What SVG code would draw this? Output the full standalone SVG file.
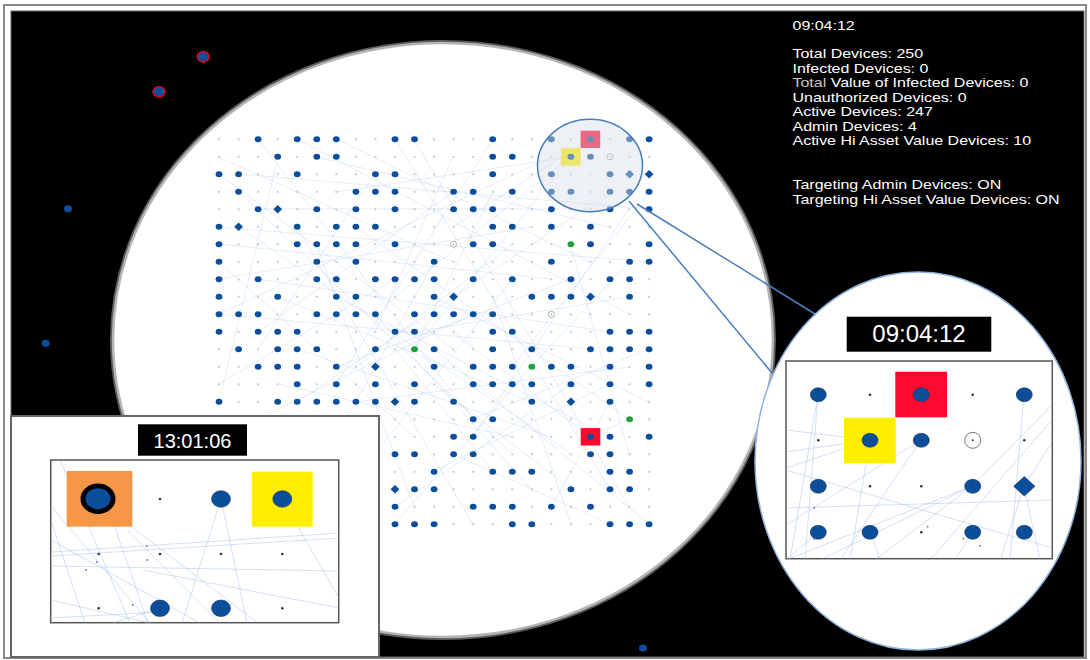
<svg xmlns="http://www.w3.org/2000/svg" width="1090" height="660" viewBox="0 0 1090 660">
<style>
.lbl{font-family:"Liberation Sans",Arial,sans-serif;fill:#fff}
.info{font-family:"Liberation Sans",Arial,sans-serif;font-size:12.8px;fill:#fff}
.ln{stroke:#a9c6ec;stroke-width:0.7;opacity:0.45;fill:none}
.pl{stroke:#9dbde6;stroke-width:0.9;opacity:0.5;fill:none}
.call{stroke:#4a7ebb;stroke-width:1.5;fill:none}
.panel{fill:#fff;stroke:#555;stroke-width:1.5}
.bn{fill:#0b4f9c;stroke:#16305a;stroke-width:0.6}
.sd{fill:#333}
</style>
<defs>
<pattern id="gp" x="209.225" y="130.55" width="19.55" height="17.5" patternUnits="userSpaceOnUse">
<circle cx="9.775" cy="8.75" r="0.9" fill="#b0b0b0"/>
</pattern>
<ellipse id="n" rx="3.4" ry="3" fill="#0b4f9c"/>
<path id="dm" d="M0,-4.2 L4.4,0 L0,4.2 L-4.4,0Z" fill="#0b4f9c"/>
<ellipse id="gn" rx="3.4" ry="3" fill="#23a03c"/>
<g id="hc"><circle r="3" fill="#fff" stroke="#9a9a9a" stroke-width="0.8"/><circle r="0.6" fill="#777"/></g>
<clipPath id="cr"><rect x="786" y="361" width="266.3" height="197.7"/></clipPath>
<clipPath id="cl"><rect x="50.7" y="460" width="288" height="162.7"/></clipPath>
</defs>

<rect x="0" y="0" width="1090" height="660" fill="#fff"/>
<rect x="4" y="5" width="1082" height="653" fill="none" stroke="#8a8a8a" stroke-width="2"/>
<rect x="11" y="11" width="1073" height="646" fill="#000" stroke="#666" stroke-width="1"/>

<g id="outside-nodes">
<ellipse cx="203.3" cy="56.7" rx="6" ry="5.2" fill="#0b4f9c" stroke="#e0001b" stroke-width="1.5"/>
<ellipse cx="159" cy="91.7" rx="6" ry="5.2" fill="#0b4f9c" stroke="#e0001b" stroke-width="1.5"/>
<ellipse cx="68" cy="208.7" rx="4" ry="3.5" fill="#0b4f9c"/>
<ellipse cx="45.7" cy="343.3" rx="4" ry="3.5" fill="#0b4f9c"/>
<ellipse cx="643" cy="648" rx="4" ry="3.5" fill="#0b4f9c"/>
</g>

<g id="main-view">
<ellipse cx="443" cy="340" rx="331.5" ry="298.5" fill="none" stroke="#5a5a5a" stroke-width="3"/>
<ellipse cx="443" cy="340" rx="330" ry="297" fill="#fff" stroke="#b4b4b4" stroke-width="2.5"/>
<rect x="209" y="130" width="450" height="403" fill="url(#gp)"/>
</g>

<g id="connectors">
<line class="ln" x1="258" y1="139" x2="473" y2="419"/>
<line class="ln" x1="297" y1="139" x2="629" y2="314"/>
<line class="ln" x1="336" y1="139" x2="590" y2="262"/>
<line class="ln" x1="219" y1="174" x2="453" y2="349"/>
<line class="ln" x1="239" y1="192" x2="512" y2="454"/>
<line class="ln" x1="278" y1="157" x2="219" y2="402"/>
<line class="ln" x1="375" y1="174" x2="258" y2="349"/>
<line class="ln" x1="395" y1="139" x2="610" y2="489"/>
<line class="ln" x1="414" y1="139" x2="629" y2="507"/>
<line class="ln" x1="493" y1="139" x2="336" y2="384"/>
<line class="ln" x1="551" y1="157" x2="219" y2="314"/>
<line class="ln" x1="571" y1="157" x2="414" y2="349"/>
<line class="ln" x1="610" y1="192" x2="297" y2="402"/>
<line class="ln" x1="629" y1="209" x2="473" y2="437"/>
<line class="ln" x1="649" y1="192" x2="512" y2="367"/>
<line class="ln" x1="453" y1="192" x2="258" y2="332"/>
<line class="ln" x1="219" y1="227" x2="649" y2="262"/>
<line class="ln" x1="219" y1="244" x2="551" y2="279"/>
<line class="ln" x1="239" y1="227" x2="571" y2="454"/>
<line class="ln" x1="297" y1="227" x2="473" y2="524"/>
<line class="ln" x1="356" y1="227" x2="629" y2="419"/>
<line class="ln" x1="219" y1="262" x2="414" y2="437"/>
<line class="ln" x1="434" y1="262" x2="297" y2="507"/>
<line class="ln" x1="258" y1="279" x2="610" y2="332"/>
<line class="ln" x1="395" y1="279" x2="219" y2="384"/>
<line class="ln" x1="434" y1="297" x2="649" y2="402"/>
<line class="ln" x1="512" y1="279" x2="375" y2="454"/>
<line class="ln" x1="571" y1="279" x2="336" y2="367"/>
<line class="ln" x1="278" y1="297" x2="531" y2="402"/>
<line class="ln" x1="336" y1="297" x2="610" y2="437"/>
<line class="ln" x1="219" y1="314" x2="590" y2="349"/>
<line class="ln" x1="375" y1="314" x2="531" y2="489"/>
<line class="ln" x1="473" y1="314" x2="258" y2="419"/>
<line class="ln" x1="414" y1="332" x2="629" y2="297"/>
<line class="ln" x1="297" y1="349" x2="551" y2="437"/>
<line class="ln" x1="434" y1="349" x2="649" y2="524"/>
<line class="ln" x1="356" y1="367" x2="512" y2="244"/>
<line class="ln" x1="531" y1="367" x2="395" y2="524"/>
<line class="ln" x1="531" y1="367" x2="629" y2="262"/>
<line class="ln" x1="414" y1="349" x2="493" y2="192"/>
<line class="ln" x1="610" y1="384" x2="434" y2="471"/>
<line class="ln" x1="590" y1="437" x2="629" y2="419"/>
<line class="ln" x1="590" y1="437" x2="453" y2="332"/>
<line class="ln" x1="473" y1="419" x2="649" y2="349"/>
<line class="ln" x1="453" y1="454" x2="610" y2="524"/>
<line class="ln" x1="493" y1="471" x2="395" y2="349"/>
<line class="ln" x1="571" y1="489" x2="434" y2="384"/>
<line class="ln" x1="551" y1="507" x2="610" y2="402"/>
<line class="ln" x1="395" y1="507" x2="571" y2="384"/>
<line class="ln" x1="239" y1="174" x2="649" y2="209"/>
<line class="ln" x1="316" y1="157" x2="610" y2="227"/>
<line class="ln" x1="219" y1="157" x2="453" y2="262"/>
<line class="ln" x1="258" y1="209" x2="571" y2="209"/>
<line class="ln" x1="531" y1="227" x2="219" y2="279"/>
<line class="ln" x1="570" y1="244" x2="629" y2="454"/>
<line class="ln" x1="316" y1="244" x2="414" y2="507"/>
<line class="ln" x1="493" y1="297" x2="571" y2="524"/>
<line class="ln" x1="355" y1="402" x2="629" y2="367"/>
<line class="ln" x1="278" y1="384" x2="512" y2="437"/>
<line class="ln" x1="453" y1="157" x2="375" y2="332"/>
<line class="ln" x1="570" y1="157" x2="395" y2="297"/>
<line class="ln" x1="590" y1="139" x2="453" y2="227"/>
<line class="ln" x1="570" y1="157" x2="336" y2="192"/>
</g>

<g id="grid-nodes">
<rect x="580.7" y="428.1" width="19.6" height="17.4" fill="#ff0a2e"/>
<rect x="580.6" y="130.7" width="19.6" height="17.3" fill="#ff0a2e"/>
<rect x="561.1" y="148.2" width="19.6" height="17.4" fill="#ffee00"/>
<g transform="translate(0,139.3)"><use href="#n" x="258.1"/><use href="#n" x="297.2"/><use href="#n" x="316.8"/><use href="#n" x="336.3"/><use href="#n" x="395"/><use href="#n" x="414.5"/><use href="#n" x="492.7"/><use href="#n" x="551.4"/><use href="#n" x="590.5"/><use href="#n" x="629.6"/><use href="#n" x="649.1"/></g>
<g transform="translate(0,156.8)"><use href="#n" x="277.7"/><use href="#n" x="316.8"/><use href="#n" x="336.3"/><use href="#n" x="492.7"/><use href="#n" x="512.3"/><use href="#n" x="570.9"/><use href="#n" x="590.5"/><use href="#hc" x="610"/></g>
<g transform="translate(0,174.3)"><use href="#n" x="219"/><use href="#n" x="238.6"/><use href="#n" x="297.2"/><use href="#n" x="375.4"/><use href="#n" x="395"/><use href="#n" x="492.7"/><use href="#n" x="551.4"/><use href="#n" x="610"/><use href="#dm" x="629.6"/><use href="#dm" x="649.1"/></g>
<g transform="translate(0,191.8)"><use href="#n" x="238.6"/><use href="#n" x="355.9"/><use href="#n" x="375.4"/><use href="#n" x="395"/><use href="#n" x="453.6"/><use href="#n" x="473.2"/><use href="#n" x="512.3"/><use href="#n" x="551.4"/><use href="#n" x="570.9"/><use href="#n" x="610"/><use href="#n" x="629.6"/><use href="#n" x="649.1"/></g>
<g transform="translate(0,209.3)"><use href="#n" x="258.1"/><use href="#dm" x="277.7"/><use href="#n" x="316.8"/><use href="#n" x="355.9"/><use href="#n" x="395"/><use href="#n" x="453.6"/><use href="#n" x="473.2"/><use href="#n" x="492.7"/><use href="#n" x="551.4"/><use href="#n" x="610"/><use href="#n" x="649.1"/></g>
<g transform="translate(0,226.8)"><use href="#n" x="219"/><use href="#dm" x="238.6"/><use href="#n" x="297.2"/><use href="#n" x="336.3"/><use href="#n" x="355.9"/><use href="#n" x="375.4"/><use href="#n" x="492.7"/><use href="#n" x="512.3"/><use href="#n" x="551.4"/><use href="#n" x="590.5"/></g>
<g transform="translate(0,244.3)"><use href="#n" x="219"/><use href="#n" x="297.2"/><use href="#n" x="316.8"/><use href="#n" x="336.3"/><use href="#n" x="355.9"/><use href="#n" x="395"/><use href="#hc" x="453.6"/><use href="#n" x="473.2"/><use href="#n" x="492.7"/><use href="#gn" x="570.9"/><use href="#n" x="590.5"/><use href="#n" x="649.1"/></g>
<g transform="translate(0,261.8)"><use href="#n" x="219"/><use href="#n" x="316.8"/><use href="#n" x="355.9"/><use href="#n" x="434.1"/><use href="#n" x="551.4"/><use href="#n" x="629.6"/><use href="#n" x="649.1"/></g>
<g transform="translate(0,279.3)"><use href="#n" x="219"/><use href="#n" x="258.1"/><use href="#n" x="316.8"/><use href="#n" x="336.3"/><use href="#n" x="375.4"/><use href="#n" x="395"/><use href="#n" x="414.5"/><use href="#n" x="434.1"/><use href="#n" x="473.2"/><use href="#n" x="512.3"/><use href="#n" x="570.9"/><use href="#n" x="610"/><use href="#n" x="629.6"/></g>
<g transform="translate(0,296.8)"><use href="#n" x="219"/><use href="#n" x="277.7"/><use href="#n" x="336.3"/><use href="#n" x="355.9"/><use href="#n" x="434.1"/><use href="#dm" x="453.6"/><use href="#n" x="531.8"/><use href="#n" x="551.4"/><use href="#n" x="570.9"/><use href="#dm" x="590.5"/><use href="#n" x="629.6"/></g>
<g transform="translate(0,314.3)"><use href="#n" x="219"/><use href="#n" x="238.6"/><use href="#n" x="258.1"/><use href="#n" x="316.8"/><use href="#n" x="336.3"/><use href="#n" x="355.9"/><use href="#n" x="375.4"/><use href="#n" x="414.5"/><use href="#n" x="434.1"/><use href="#n" x="453.6"/><use href="#n" x="473.2"/><use href="#n" x="492.7"/><use href="#hc" x="551.4"/></g>
<g transform="translate(0,331.8)"><use href="#n" x="219"/><use href="#n" x="258.1"/><use href="#n" x="277.7"/><use href="#n" x="297.2"/><use href="#n" x="395"/><use href="#n" x="414.5"/><use href="#n" x="492.7"/><use href="#n" x="512.3"/><use href="#n" x="610"/><use href="#n" x="629.6"/><use href="#n" x="649.1"/></g>
<g transform="translate(0,349.3)"><use href="#n" x="238.6"/><use href="#n" x="277.7"/><use href="#n" x="297.2"/><use href="#n" x="316.8"/><use href="#n" x="375.4"/><use href="#gn" x="414.5"/><use href="#n" x="434.1"/><use href="#n" x="492.7"/><use href="#n" x="531.8"/><use href="#n" x="590.5"/><use href="#n" x="610"/><use href="#n" x="629.6"/><use href="#n" x="649.1"/></g>
<g transform="translate(0,366.8)"><use href="#n" x="258.1"/><use href="#n" x="277.7"/><use href="#n" x="297.2"/><use href="#n" x="336.3"/><use href="#dm" x="375.4"/><use href="#n" x="434.1"/><use href="#n" x="473.2"/><use href="#n" x="492.7"/><use href="#n" x="512.3"/><use href="#gn" x="531.8"/><use href="#n" x="551.4"/><use href="#n" x="570.9"/><use href="#n" x="610"/><use href="#n" x="649.1"/></g>
<g transform="translate(0,384.3)"><use href="#n" x="297.2"/><use href="#n" x="336.3"/><use href="#n" x="375.4"/><use href="#n" x="414.5"/><use href="#n" x="473.2"/><use href="#n" x="492.7"/><use href="#n" x="512.3"/><use href="#n" x="531.8"/><use href="#n" x="570.9"/><use href="#n" x="610"/><use href="#n" x="649.1"/></g>
<g transform="translate(0,401.8)"><use href="#n" x="219"/><use href="#n" x="277.7"/><use href="#n" x="297.2"/><use href="#n" x="316.8"/><use href="#n" x="336.3"/><use href="#n" x="355.9"/><use href="#n" x="375.4"/><use href="#dm" x="395"/><use href="#n" x="414.5"/><use href="#n" x="453.6"/><use href="#n" x="531.8"/><use href="#dm" x="570.9"/><use href="#n" x="610"/></g>
<g transform="translate(0,419.3)"><use href="#n" x="473.2"/><use href="#n" x="492.7"/><use href="#gn" x="629.6"/></g>
<g transform="translate(0,436.8)"><use href="#n" x="453.6"/><use href="#n" x="473.2"/><use href="#n" x="590.5"/><use href="#n" x="610"/><use href="#n" x="649.1"/></g>
<g transform="translate(0,454.3)"><use href="#n" x="395"/><use href="#n" x="414.5"/><use href="#n" x="453.6"/><use href="#n" x="473.2"/><use href="#n" x="590.5"/><use href="#n" x="610"/></g>
<g transform="translate(0,471.8)"><use href="#n" x="434.1"/><use href="#n" x="492.7"/><use href="#n" x="512.3"/><use href="#n" x="531.8"/><use href="#n" x="610"/><use href="#n" x="629.6"/></g>
<g transform="translate(0,489.3)"><use href="#dm" x="395"/><use href="#n" x="414.5"/><use href="#n" x="434.1"/><use href="#n" x="570.9"/><use href="#n" x="610"/><use href="#n" x="629.6"/></g>
<g transform="translate(0,506.8)"><use href="#n" x="395"/><use href="#n" x="473.2"/><use href="#n" x="492.7"/><use href="#n" x="512.3"/><use href="#n" x="551.4"/><use href="#n" x="590.5"/></g>
<g transform="translate(0,524.3)"><use href="#n" x="395"/><use href="#n" x="414.5"/><use href="#n" x="434.1"/><use href="#n" x="512.3"/><use href="#n" x="531.8"/><use href="#n" x="610"/><use href="#n" x="629.6"/><use href="#n" x="649.1"/></g>
</g>

<g id="magnifier">
<ellipse cx="590" cy="165.5" rx="52.5" ry="46.2" fill="#d8dee8" fill-opacity="0.45" stroke="#4a7ebb" stroke-width="1.5"/>
</g>

<g id="callout">
<line class="call" x1="629" y1="201" x2="772" y2="373"/>
<line class="call" x1="637" y1="204" x2="815" y2="314"/>
</g>

<g id="zoom-right">
<ellipse cx="918" cy="461" rx="163" ry="189" fill="#fff" stroke="#8fb0dd" stroke-width="1.5"/>
<rect x="846.7" y="316.7" width="144.6" height="35" fill="#000"/>
<text class="lbl" x="919" y="341.5" font-size="24" text-anchor="middle">09:04:12</text>
<rect class="panel" x="786" y="361" width="266.3" height="197.7"/>
<g clip-path="url(#cr)">
<line class="pl" x1="818" y1="395" x2="790" y2="560"/>
<line class="pl" x1="818" y1="395" x2="805" y2="560"/>
<line class="pl" x1="870" y1="440" x2="786" y2="452"/>
<line class="pl" x1="870" y1="440" x2="786" y2="468"/>
<line class="pl" x1="870" y1="440" x2="786" y2="430"/>
<line class="pl" x1="921" y1="440" x2="840" y2="560"/>
<line class="pl" x1="921" y1="440" x2="786" y2="525"/>
<line class="pl" x1="972" y1="486" x2="786" y2="560"/>
<line class="pl" x1="972" y1="486" x2="875" y2="560"/>
<line class="pl" x1="972" y1="486" x2="1052" y2="405"/>
<line class="pl" x1="1024" y1="486" x2="1000" y2="560"/>
<line class="pl" x1="1024" y1="486" x2="1040" y2="560"/>
<line class="pl" x1="1024" y1="395" x2="1010" y2="560"/>
<line class="pl" x1="786" y1="470" x2="1052" y2="548"/>
<line class="pl" x1="786" y1="508" x2="1052" y2="500"/>
<line class="pl" x1="818" y1="532" x2="786" y2="560"/>
<line class="pl" x1="870" y1="532" x2="880" y2="560"/>
<line class="pl" x1="972" y1="532" x2="955" y2="560"/>
<line class="pl" x1="870" y1="440" x2="850" y2="560"/>
<line class="pl" x1="1052" y1="420" x2="930" y2="560"/>
<line class="pl" x1="972" y1="486" x2="820" y2="560"/>
<line class="pl" x1="1024" y1="486" x2="1060" y2="430"/>
</g>
<rect x="895.3" y="371.7" width="51.7" height="45.6" fill="#ff0a2e"/>
<rect x="844" y="417.7" width="51.7" height="45.6" fill="#ffee00"/>
<g id="rz-nodes">
<ellipse class="bn" cx="818.3" cy="394.7" rx="8" ry="7"/><circle class="sd" cx="818.3" cy="394.7" r="0.8"/>
<circle class="sd" cx="870" cy="394.7" r="1.3"/>
<ellipse class="bn" cx="921.3" cy="394.7" rx="8" ry="7"/><circle class="sd" cx="921.3" cy="394.7" r="0.8"/>
<circle class="sd" cx="972.7" cy="394.7" r="1.3"/>
<ellipse class="bn" cx="1024.3" cy="394.7" rx="8" ry="7"/><circle class="sd" cx="1024.3" cy="394.7" r="0.8"/>
<circle class="sd" cx="818.3" cy="440.3" r="1.3"/>
<ellipse class="bn" cx="870" cy="440.3" rx="8" ry="7"/><circle class="sd" cx="870" cy="440.3" r="0.8"/>
<ellipse class="bn" cx="921.3" cy="440.3" rx="8" ry="7"/><circle class="sd" cx="921.3" cy="440.3" r="0.8"/>
<circle cx="972.7" cy="440.3" r="8" fill="#fff" stroke="#777" stroke-width="1"/><circle class="sd" cx="972.7" cy="440.3" r="1"/>
<circle class="sd" cx="1024.3" cy="440.3" r="1.3"/>
<ellipse class="bn" cx="818.3" cy="486.3" rx="8" ry="7"/><circle class="sd" cx="818.3" cy="486.3" r="0.8"/>
<circle class="sd" cx="870" cy="486.3" r="1.3"/>
<circle class="sd" cx="921.3" cy="486.3" r="1.3"/>
<ellipse class="bn" cx="972.7" cy="486.3" rx="8" ry="7"/><circle class="sd" cx="972.7" cy="486.3" r="0.8"/>
<path class="bn" d="M1024.3,476.6 L1035,486.3 L1024.3,496 L1013.6,486.3Z"/>
<ellipse class="bn" cx="818.3" cy="532.3" rx="8" ry="7"/><circle class="sd" cx="818.3" cy="532.3" r="0.8"/>
<ellipse class="bn" cx="870" cy="532.3" rx="8" ry="7"/><circle class="sd" cx="870" cy="532.3" r="0.8"/>
<circle class="sd" cx="921.3" cy="532.3" r="1.3"/>
<ellipse class="bn" cx="972.7" cy="532.3" rx="8" ry="7"/><circle class="sd" cx="972.7" cy="532.3" r="0.8"/>
<ellipse class="bn" cx="1024.3" cy="532.3" rx="8" ry="7"/><circle class="sd" cx="1024.3" cy="532.3" r="0.8"/>
<circle cx="814.3" cy="508" r="0.9" fill="#6a6aff"/>
<circle cx="927.7" cy="526.7" r="0.9" fill="#6a6aff"/>
<circle cx="963.3" cy="538.7" r="0.9" fill="#6a6aff"/>
<circle cx="980" cy="546" r="0.9" fill="#6a6aff"/>
<circle cx="814" cy="539" r="0.9" fill="#6a6aff"/>
</g>
</g>

<g id="stats" transform="translate(792.5,0) scale(1.25,1)">
<text class="info" x="0" y="30">09:04:12</text>
<text class="info" x="0" y="58.5">Total Devices: 250</text>
<text class="info" x="0" y="73">Infected Devices: 0</text>
<text class="info" x="0" y="87.5"><tspan fill="#c8c8c8">Total</tspan> Value of Infected Devices: 0</text>
<text class="info" x="0" y="102">Unauthorized Devices: 0</text>
<text class="info" x="0" y="116.5">Active Devices: 247</text>
<text class="info" x="0" y="131">Admin Devices: 4</text>
<text class="info" x="0" y="145.5">Active Hi Asset Value Devices: 10</text>
<text class="info" x="0" y="189.5">Targeting Admin Devices: ON</text>
<text class="info" x="0" y="204">Targeting Hi Asset Value Devices: ON</text>
</g>

<g id="zoom-left">
<rect x="11" y="416" width="368" height="241" fill="#fff" stroke="#666" stroke-width="2"/>
<rect x="138" y="424.3" width="109" height="31.4" fill="#000"/>
<text class="lbl" x="192.5" y="448.3" font-size="20" text-anchor="middle">13:01:06</text>
<rect class="panel" x="50.7" y="460" width="288" height="162.7"/>
<g clip-path="url(#cl)">
<line class="pl" x1="51" y1="506" x2="150" y2="623"/>
<line class="pl" x1="51" y1="520" x2="85" y2="623"/>
<line class="pl" x1="112" y1="519" x2="148" y2="623"/>
<line class="pl" x1="133" y1="528" x2="258" y2="623"/>
<line class="pl" x1="127" y1="530" x2="220" y2="623"/>
<line class="pl" x1="51" y1="552" x2="339" y2="533"/>
<line class="pl" x1="51" y1="556" x2="339" y2="538"/>
<line class="pl" x1="51" y1="566" x2="339" y2="571"/>
<line class="pl" x1="51" y1="540" x2="200" y2="623"/>
<line class="pl" x1="221" y1="499" x2="182" y2="623"/>
<line class="pl" x1="221" y1="499" x2="247" y2="623"/>
<line class="pl" x1="282" y1="499" x2="339" y2="598"/>
<line class="pl" x1="143" y1="570" x2="339" y2="608"/>
<line class="pl" x1="160" y1="608" x2="113" y2="623"/>
<line class="pl" x1="51" y1="618" x2="160" y2="612"/>
<line class="pl" x1="51" y1="600" x2="150" y2="623"/>
<line class="pl" x1="60" y1="460" x2="130" y2="623"/>
</g>
<rect x="66.7" y="471" width="65.6" height="55.7" fill="#f79646"/>
<rect x="251.7" y="471.7" width="61" height="55" fill="#ffee00"/>
<g id="lz-nodes">
<ellipse cx="98" cy="498.7" rx="17.5" ry="15.3" fill="#000"/>
<ellipse cx="98" cy="498.7" rx="12.5" ry="10.5" fill="#0b4f9c"/>
<circle class="sd" cx="98" cy="498.7" r="0.8"/>
<circle class="sd" cx="160" cy="499" r="1.3"/>
<ellipse class="bn" cx="221" cy="499" rx="9.5" ry="8.3"/><circle class="sd" cx="221" cy="499" r="0.8"/>
<ellipse class="bn" cx="282.3" cy="499" rx="9.5" ry="8.3"/><circle class="sd" cx="282.3" cy="499" r="0.8"/>
<circle class="sd" cx="98.7" cy="554" r="1.3"/>
<circle class="sd" cx="160" cy="554" r="1.3"/>
<circle class="sd" cx="221" cy="554" r="1.3"/>
<circle class="sd" cx="282.3" cy="554" r="1.3"/>
<circle class="sd" cx="98.7" cy="608.3" r="1.3"/>
<ellipse class="bn" cx="160" cy="608.3" rx="9.5" ry="8.3"/><circle class="sd" cx="160" cy="608.3" r="0.8"/>
<ellipse class="bn" cx="221" cy="608.3" rx="9.5" ry="8.3"/><circle class="sd" cx="221" cy="608.3" r="0.8"/>
<circle class="sd" cx="282.3" cy="608.3" r="1.3"/>
<circle cx="146.7" cy="546" r="0.9" fill="#6a6aff"/>
<circle cx="96.7" cy="562" r="0.9" fill="#6a6aff"/>
<circle cx="86" cy="570" r="0.9" fill="#6a6aff"/>
<circle cx="147.3" cy="560" r="0.9" fill="#6a6aff"/>
<circle cx="132.7" cy="605" r="0.9" fill="#6a6aff"/>
</g>
</g>
</svg>
